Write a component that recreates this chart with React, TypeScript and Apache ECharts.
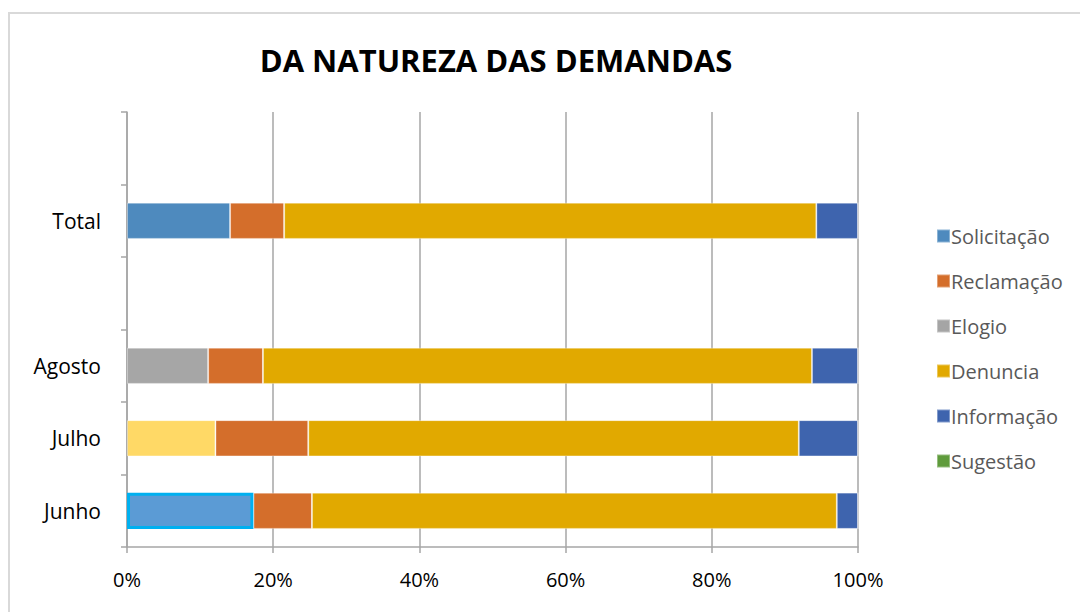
import React, { useEffect, useRef } from "react";
import * as echarts from "echarts";

const categories = ["Junho", "Julho", "Agosto", "", "Total", ""];
const seriesNames = ["Solicitação", "Reclamação", "Elogio", "Denuncia", "Informação", "Sugestão"];
const seriesColors = ["#4E8ABE", "#D46E2B", "#A5A5A5", "#E1A900", "#3E64AE", "#5F9B3C"];
// percentages per category (Junho, Julho, Agosto, blank, Total, blank)
const solicitacao = [17.3, 12.1, 11.1, null, 14.1, null];
const reclamacao = [8.0, 12.7, 7.5, null, 7.4, null];
const elogio = [0, 0, 0, null, 0, null];
const denuncia = [71.8, 67.1, 75.1, null, 72.8, null];
const informacao = [2.9, 8.1, 6.3, null, 5.7, null];
const sugestao = [0, 0, 0, null, 0, null];
// special per-point styles of the first segment, as in the original
const firstColors = ["#5B9BD5", "#FFD966", "#A6A6A6", null, "#4E8ABE", null];
const xTicks = ["0%", "20%", "40%", "60%", "80%", "100%"];

const font = "'Open Sans', 'Noto Sans', sans-serif";

export default function App() {
  const ref = useRef<HTMLDivElement>(null);
  useEffect(() => {
    const chart = echarts.init(ref.current!, null, { renderer: "svg" });
    const values = [solicitacao, reclamacao, elogio, denuncia, informacao, sugestao];
    const series = values.map((vals, si) => ({
      name: seriesNames[si],
      type: "bar",
      stack: "total",
      barCategoryGap: "50%",
      itemStyle: { color: seriesColors[si], borderColor: "rgba(255,255,255,0.35)", borderWidth: 1 },
      data: vals.map((v, ci) => {
        if (si === 0 && v != null) {
          const item: any = { value: v, itemStyle: { color: firstColors[ci] } };
          if (ci === 0) item.itemStyle = { color: firstColors[ci], borderColor: "#00B0F0", borderWidth: 3 };
          return item;
        }
        return v;
      }),
    }));
    chart.setOption({
      animation: false,
      backgroundColor: "#fff",
      title: {
        text: "DA NATUREZA DAS DEMANDAS",
        left: 491,
        top: 39,
        textAlign: "center",
        textStyle: { fontFamily: font, fontWeight: "bold", fontSize: 31, color: "#000" },
      },
      graphic: [
        {
          type: "rect",
          shape: { x: 9, y: 13, width: 1100, height: 700 },
          style: { fill: "none", stroke: "#D9D9D9", lineWidth: 2 },
          silent: true,
        },
      ],
      legend: {
        orient: "vertical",
        left: 931,
        top: 220,
        itemWidth: 13,
        itemHeight: 13,
        itemGap: 23,
        icon: "rect",
        data: seriesNames,
        textStyle: { fontFamily: font, fontSize: 20, color: "#595959", padding: [0, 0, 0, -4], height: 22, lineHeight: 22 },
      },
      grid: { left: 127, right: 222, top: 112, bottom: 65 },
      xAxis: {
        type: "value",
        min: 0,
        max: 100,
        interval: 20,
        axisLine: { show: true, lineStyle: { color: "#A6A6A6", width: 1.5 } },
        axisTick: { show: true, length: 6, lineStyle: { color: "#A6A6A6", width: 1.5 } },
        splitLine: { show: true, lineStyle: { color: "#A6A6A6", width: 1.5 } },
        axisLabel: {
          formatter: (v: number) => xTicks[Math.round(v / 20)],
          fontFamily: font,
          fontSize: 20,
          color: "#000",
          margin: 22,
        },
      },
      yAxis: {
        type: "category",
        data: categories,
        axisLine: { show: true, lineStyle: { color: "#A6A6A6", width: 1.5 } },
        axisTick: { show: true, length: 6, lineStyle: { color: "#A6A6A6", width: 1.5 } },
        axisLabel: { fontFamily: font, fontSize: 21, color: "#000", margin: 26 },
      },
      series,
    });
    return () => chart.dispose();
  }, []);
  return (
    <div
      ref={ref}
      style={{ position: "fixed", left: 0, top: 0, width: 1080, height: 612 }}
    />
  );
}
